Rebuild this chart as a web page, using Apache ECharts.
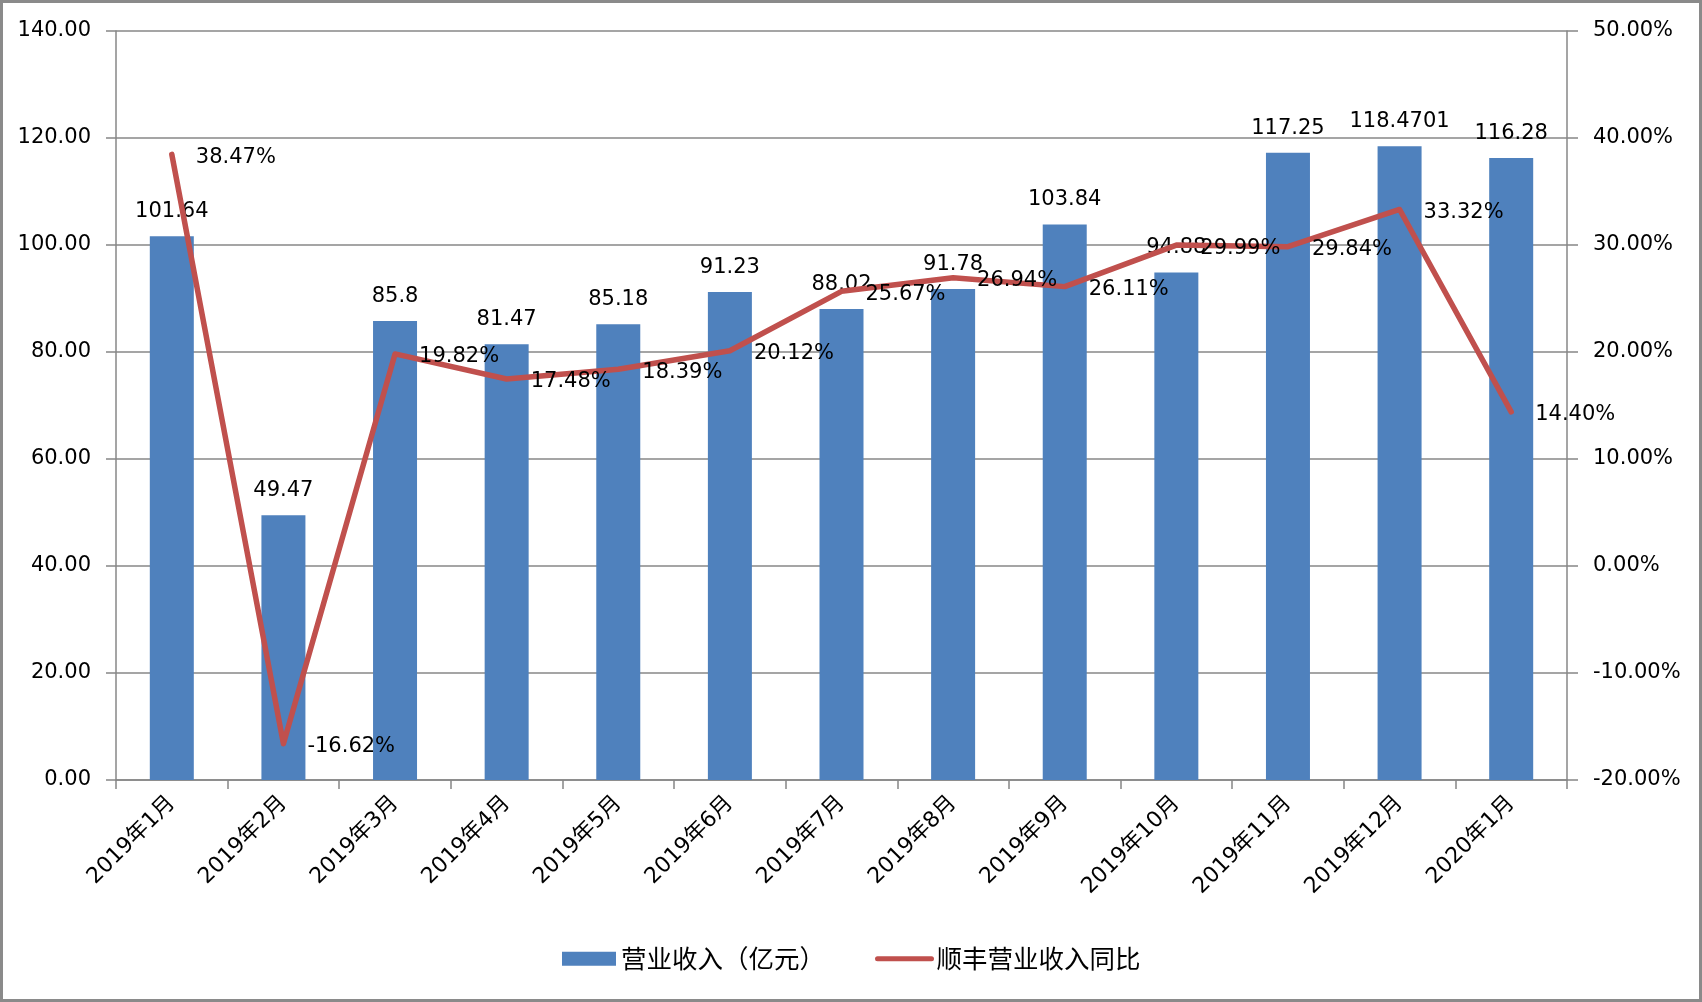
<!DOCTYPE html>
<html><head><meta charset="utf-8">
<script src="https://cdn.jsdelivr.net/npm/echarts@6/dist/echarts.min.js"></script>
<style>html,body{margin:0;padding:0;background:#fff}#c{width:1702px;height:1002px}</style>
</head><body><div id="c"></div>
<script>
const categories = ['2019年1月','2019年2月','2019年3月','2019年4月','2019年5月','2019年6月','2019年7月','2019年8月','2019年9月','2019年10月','2019年11月','2019年12月','2020年1月'];
const revenue = [101.64, 49.47, 85.8, 81.47, 85.18, 91.23, 88.02, 91.78, 103.84, 94.88, 117.25, 118.4701, 116.28];
const yoyPct = [38.47, -16.62, 19.82, 17.48, 18.39, 20.12, 25.67, 26.94, 26.11, 29.99, 29.84, 33.32, 14.40];
const seriesNames = ['营业收入（亿元）', '顺丰营业收入同比'];
const leftAxisRange = [0, 140, 20];
const rightAxisRange = [-20, 50, 10];

const FONT = 'DejaVu Sans, Noto Sans CJK SC, sans-serif';
const GRAY = '#878787';
const RED = '#C0504D';
const chart = echarts.init(document.getElementById('c'));
chart.setOption({
  animation: false,
  backgroundColor: '#fff',
  textStyle: { fontFamily: FONT, color: '#000' },
  graphic: [{
    type: 'rect', silent: true, z: 100,
    shape: { x: 1.5, y: 1.5, width: 1699, height: 999 },
    style: { fill: 'none', stroke: '#8a8a8a', lineWidth: 3 }
  }],
  grid: { left: 116, right: 135, top: 31, bottom: 222, containLabel: false },
  legend: {
    left: 557, top: 941,
    itemWidth: 54, itemHeight: 14, itemGap: 50,
    textStyle: { fontFamily: 'Noto Sans CJK SC, sans-serif', fontSize: 25.5, color: '#000' },
    data: [
      { name: seriesNames[0], icon: 'rect' },
      { name: seriesNames[1], itemStyle: { opacity: 0 }, lineStyle: { width: 5, color: RED, opacity: 1 } }
    ]
  },
  xAxis: {
    type: 'category',
    data: categories,
    axisLine: { show: true, lineStyle: { color: GRAY, width: 1.5 } },
    axisTick: { show: true, length: 9, alignWithLabel: false, lineStyle: { color: GRAY, width: 1.5 } },
    axisLabel: { rotate: 45, fontSize: 22, color: '#000', margin: 20, fontFamily: FONT, interval: 0 }
  },
  yAxis: [{
    type: 'value', min: leftAxisRange[0], max: leftAxisRange[1], interval: leftAxisRange[2],
    axisLine: { show: true, lineStyle: { color: GRAY, width: 1.5 } },
    axisTick: { show: true, length: 10, lineStyle: { color: GRAY, width: 1.5 } },
    splitLine: { show: true, lineStyle: { color: GRAY, width: 1.5 } },
    axisLabel: { fontSize: 21, color: '#000', margin: 25, fontFamily: FONT, formatter: v => v.toFixed(2) }
  }, {
    type: 'value', min: rightAxisRange[0], max: rightAxisRange[1], interval: rightAxisRange[2],
    position: 'right',
    axisLine: { show: true, lineStyle: { color: GRAY, width: 1.5 } },
    axisTick: { show: true, length: 11, lineStyle: { color: GRAY, width: 1.5 } },
    splitLine: { show: false },
    axisLabel: { fontSize: 21, color: '#000', margin: 26, fontFamily: FONT, formatter: v => v.toFixed(2) + '%' }
  }],
  series: [{
    name: seriesNames[0], type: 'bar', yAxisIndex: 0,
    data: revenue, barWidth: 44,
    itemStyle: { color: '#4F81BD' },
    label: { show: true, position: 'top', distance: 14, fontSize: 21, color: '#000', fontFamily: FONT,
      formatter: p => String(p.value) }
  }, {
    name: seriesNames[1], type: 'line', yAxisIndex: 1,
    data: yoyPct, symbol: 'circle', symbolSize: 2, showSymbol: true,
    lineStyle: { color: RED, width: 5.5, join: 'round', cap: 'round' },
    itemStyle: { color: RED, opacity: 0 },
    label: { show: true, position: 'right', distance: 23, offset: [0, 3], fontSize: 21, color: '#000', fontFamily: FONT,
      opacity: 1, formatter: p => p.value.toFixed(2) + '%' },
    z: 3
  }]
});
</script></body></html>
